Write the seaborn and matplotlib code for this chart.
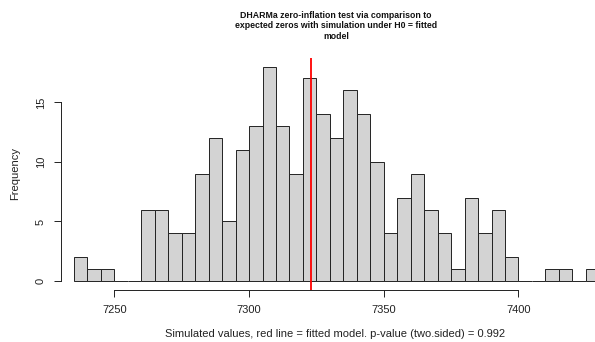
import numpy as np
import pandas as pd
import matplotlib
matplotlib.use("Agg")
import matplotlib.pyplot as plt
import seaborn as sns

# Data
bin_width = 5
bin_start = 7235
counts = [2, 1, 1, 0, 0, 6, 6, 4, 4, 9, 12, 5, 11, 13, 18, 13, 9, 17, 14, 12,
          16, 14, 10, 4, 7, 9, 6, 4, 1, 7, 4, 6, 2, 0, 0, 1, 1, 0, 1]
observed = 7323
x_ticks = [7250, 7300, 7350, 7400]
y_ticks = [0, 5, 10, 15]
title = ("DHARMa zero-inflation test via comparison to\n"
         "expected zeros with simulation under H0 = fitted\n"
         "model")
xlabel = "Simulated values, red line = fitted model. p-value (two.sided) = 0.992"
ylabel = "Frequency"

edges = bin_start + bin_width * np.arange(len(counts) + 1)
df = pd.DataFrame({"center": edges[:-1] + bin_width / 2,
                   "count": np.array(counts, dtype=float)})

sns.set_theme(style="white")
plt.rcParams['font.family'] = ['Liberation Sans', 'DejaVu Sans']

W, H = 595, 342
fig = plt.figure(figsize=(W / 100, H / 100), dpi=100)
left_px, right_px, top_px, bot_px = 61, 609, 58, 289.6
ax = fig.add_axes([left_px / W, 1 - bot_px / H, (right_px - left_px) / W,
                   (bot_px - top_px) / H])

sns.histplot(data=df, x="center", weights="count", bins=[float(e) for e in edges],
             ax=ax, color="#D3D3D3", alpha=1, edgecolor="#222222", linewidth=0.7)
ax.axvline(observed, color="red", linewidth=1.3)

ax.set_xlim(7230.2, 7433.6)
ax.set_ylim(-0.72, 18.72)
for s in ["top", "right"]:
    ax.spines[s].set_visible(False)
for s in ["left", "bottom"]:
    ax.spines[s].set_color("#222222")
    ax.spines[s].set_linewidth(0.7)
ax.spines["left"].set_bounds(0, 15)
ax.spines["bottom"].set_bounds(7250, 7400)
ax.set_xticks(x_ticks)
ax.set_yticks(y_ticks)
ax.tick_params(axis="both", direction="out", length=5, width=0.7,
               color="#222222", labelsize=8, labelcolor="#222222",
               bottom=True, left=True)
ax.tick_params(axis="x", pad=6)
ax.tick_params(axis="y", pad=6)
for lab in ax.get_yticklabels():
    lab.set_rotation(90)
    lab.set_va("center")
ax.set_xlabel(xlabel, fontsize=8, color="#222222", labelpad=10.5)
ax.set_ylabel(ylabel, fontsize=8, color="#222222", labelpad=11)
ax.grid(False)

fig.text(336 / W, 1 - 26 / H, title, ha="center", va="center",
         fontsize=6.35, fontweight="bold", linespacing=1.2, color="#111111")

fig.savefig("out.png", dpi=100)
